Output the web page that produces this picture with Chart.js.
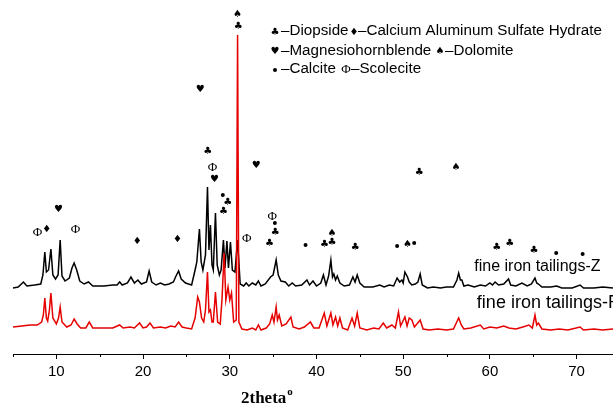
<!DOCTYPE html>
<html>
<head>
<meta charset="utf-8">
<script src="https://cdn.jsdelivr.net/npm/chart.js@4.4.1/dist/chart.umd.min.js"></script>
<style>
  html, body { margin: 0; padding: 0; background: #fff; }
  canvas { display: block; }
</style>
</head>
<body>
<canvas id="xrdChart" width="613" height="405"></canvas>
<script>
// XRD pattern, fine iron tailings (intensities in arbitrary units, offset per sample)
const zTheta = [5.0, 5.6, 6.2, 6.6, 7.5, 8.2, 8.45, 8.67, 8.85, 9.1, 9.37, 9.6, 9.9, 10.2, 10.44, 10.65, 11.0, 11.5, 11.8, 12.05,
  12.35, 12.7, 13.2, 13.7, 14.2, 15.5, 16.5, 17.0, 17.3, 17.6, 18.2, 18.6, 19.0, 19.4, 19.8, 20.4, 20.7, 21.0, 21.5, 22.0,
  22.5, 23.0, 23.5, 23.8, 24.1, 24.4, 24.9, 25.6, 26.0, 26.2, 26.5, 26.7, 26.9, 27.2, 27.43, 27.6, 27.77, 27.95, 28.1, 28.35,
  28.55, 28.8, 29.0, 29.27, 29.45, 29.67, 29.85, 30.08, 30.3, 30.6, 30.9, 31.2, 31.6, 31.9, 32.2, 32.6, 33.0, 33.3, 33.6, 34.1,
  34.7, 35.0, 35.35, 35.6, 35.9, 36.4, 36.8, 37.2, 37.6, 38.3, 38.9, 39.2, 39.6, 40.0, 40.5, 40.8, 41.1, 41.4, 41.66, 41.85,
  42.0, 42.2, 42.4, 42.7, 43.2, 43.8, 44.2, 44.45, 44.7, 45.0, 45.5, 46.5, 47.3, 47.8, 48.4, 48.9, 49.3, 49.6, 49.85, 50.0,
  50.2, 50.5, 50.7, 51.0, 51.4, 51.7, 51.96, 52.2, 52.8, 53.5, 54.3, 55.0, 55.8, 56.2, 56.4, 56.6, 56.77, 57.0, 57.5, 58.2,
  58.9, 59.5, 60.0, 60.3, 60.6, 61.0, 61.6, 62.15, 62.4, 63.0, 63.7, 64.3, 64.8, 65.2, 65.4, 65.6, 66.0, 67.0, 67.7, 68.3,
  69.5, 70.4, 70.8, 72.0, 73.0, 74.2];
const zCounts = [66, 67, 72, 68, 69, 70, 79, 102, 82, 84, 105, 79, 75, 79, 114, 78, 73, 76, 86, 91,
  84, 73, 70, 72, 68, 68, 69, 69, 72, 69, 71, 77, 71, 74, 70, 72, 83, 72, 69, 71,
  69, 70, 72, 78, 83, 75, 71, 69, 84, 92, 125, 92, 84, 99, 167, 104, 129, 89, 84, 141,
  89, 79, 84, 114, 86, 113, 86, 112, 84, 82, 114, 70, 68, 71, 68, 71, 69, 73, 68, 70,
  77, 79, 94, 79, 73, 72, 68, 71, 68, 69, 74, 69, 73, 68, 71, 79, 69, 78, 94, 77,
  80, 74, 78, 71, 68, 69, 77, 72, 79, 71, 67, 67, 69, 67, 69, 68, 76, 72, 74, 71,
  82, 77, 72, 69, 70, 72, 80, 69, 66, 67, 66, 67, 67, 74, 81, 74, 74, 68, 69, 67,
  69, 68, 71, 69, 72, 69, 70, 75, 69, 68, 71, 68, 70, 76, 71, 70, 67, 67, 68, 66,
  66, 69, 66, 66, 67, 66];

const rTheta = [5.0, 6.0, 7.0, 7.8, 8.3, 8.5, 8.67, 8.85, 9.0, 9.2, 9.37, 9.6, 10.0, 10.25, 10.44, 10.65, 11.2, 11.7, 12.05, 12.4,
  12.8, 13.4, 13.8, 14.2, 15.5, 16.5, 17.3, 17.7, 18.5, 19.0, 19.6, 20.0, 20.4, 20.8, 21.2, 22.0, 22.6, 23.2, 23.7, 24.1,
  24.5, 25.0, 25.6, 26.0, 26.3, 26.5, 26.75, 27.0, 27.2, 27.43, 27.6, 27.77, 27.95, 28.1, 28.35, 28.6, 28.9, 29.1, 29.35, 29.55,
  29.8, 30.0, 30.2, 30.45, 30.75, 30.9, 31.05, 31.4, 32.0, 32.6, 33.0, 33.3, 33.6, 34.2, 34.6, 34.9, 35.1, 35.35, 35.5, 35.7,
  36.0, 36.5, 37.05, 37.3, 38.0, 38.6, 39.3, 39.7, 40.3, 40.9, 41.2, 41.66, 41.9, 42.2, 42.45, 42.7, 43.0, 43.6, 44.1, 44.4,
  44.7, 45.0, 45.8, 46.6, 47.2, 47.7, 48.1, 48.7, 49.1, 49.46, 49.7, 50.2, 50.45, 50.7, 51.0, 51.3, 51.96, 52.3, 53.0, 54.0,
  55.0, 55.8, 56.4, 56.7, 57.0, 57.8, 58.9, 59.3, 60.0, 60.8, 61.6, 62.2, 63.0, 63.8, 64.5, 64.9, 65.2, 65.4, 65.6, 66.0,
  67.0, 68.0, 69.0, 70.4, 70.8, 72.0, 73.0, 74.2];
const rCounts = [27, 28, 29, 29, 32, 39, 56, 36, 33, 44, 61, 36, 30, 36, 47, 32, 27, 29, 35, 30,
  26, 26, 32, 26, 26, 26, 29, 26, 27, 26, 31, 26, 27, 31, 26, 27, 26, 28, 27, 32,
  27, 26, 25, 36, 57, 52, 36, 32, 44, 82, 42, 44, 32, 32, 62, 32, 30, 54, 101, 54,
  67, 54, 61, 32, 34, 319, 32, 25, 24, 26, 24, 29, 24, 26, 30, 39, 32, 47, 34, 39,
  28, 30, 37, 27, 25, 27, 32, 26, 26, 41, 28, 41, 29, 37, 28, 36, 26, 24, 36, 28,
  41, 26, 24, 26, 25, 31, 26, 29, 26, 42, 28, 37, 28, 36, 34, 27, 34, 25, 24, 25,
  24, 25, 36, 29, 25, 26, 29, 25, 27, 26, 28, 26, 25, 27, 29, 26, 39, 29, 31, 25,
  24, 25, 24, 27, 24, 25, 24, 25];

const tickValues = [10, 20, 30, 40, 50, 60, 70];
const seriesNames = ['fine iron tailings-Z', 'fine iron tailings-R'];

// phase marks above the peaks
const markTheta = [7.82, 8.9, 10.24, 12.2, 19.32, 23.97, 26.6, 27.47, 28.0, 28.24, 29.2, 29.78, 29.28, 30.89, 30.97, 33.05,
  31.97, 34.89, 35.2, 35.24, 34.58, 38.74, 40.93, 41.78, 41.78, 44.46, 51.85, 56.1, 49.3, 50.5, 51.27, 60.8, 62.3, 65.1,
  67.65, 70.7];
const markLevel = [121, 125, 145, 124, 113, 115, 265, 203, 186, 175, 159, 152, 143, 340, 328, 189,
  115, 137, 131, 122, 111, 109, 110, 121, 112, 107, 182, 187, 108, 110, 111, 107, 111, 104,
  101, 100];
const markSymbol = ['Φ', '♦', '♥', 'Φ', '♦', '♦', '♥', '♣', 'Φ', '♥', '●', '♣', '♣', '♠', '♣', '♥',
  'Φ', 'Φ', '●', '♣', '♣', '●', '♣', '♠', '♣', '♣', '♣', '♠', '●', '♠', '●', '♣', '♣', '♣',
  '●', '●'];

function drawMark(ctx, sym, x, y, size) {
  if (sym === '●') {
    ctx.beginPath();
    ctx.arc(x, y, size * 0.2, 0, Math.PI * 2);
    ctx.fill();
    return;
  }
  ctx.font = sym === 'Φ' ? (size + 3) + 'px "Liberation Serif"' : size + 'px "DejaVu Sans"';
  ctx.fillText(sym, x, y);
}

const decorPlugin = {
  id: 'decor',
  afterDraw(chart) {
    const ctx = chart.ctx;
    const xs = chart.scales.x;
    const ys = chart.scales.y;
    const bottom = chart.chartArea.bottom;
    ctx.save();
    ctx.fillStyle = '#000';
    ctx.strokeStyle = '#000';
    ctx.lineWidth = 1;

    // minor ticks
    for (let v = 5; v < xs.max; v += 10) {
      const px = Math.round(xs.getPixelForValue(v)) + 0.5;
      ctx.beginPath();
      ctx.moveTo(px, bottom);
      ctx.lineTo(px, bottom + 3);
      ctx.stroke();
    }

    // phase marks
    ctx.textAlign = 'center';
    ctx.textBaseline = 'middle';
    markSymbol.forEach((s, i) => {
      drawMark(ctx, s, xs.getPixelForValue(markTheta[i]), ys.getPixelForValue(markLevel[i]), 10);
    });

    // key, top right
    const key = [
      [['♣', 275], ['–Diopside', 281], ['♦', 354], ['–Calcium Aluminum Sulfate Hydrate', 358]],
      [['♥', 275], ['–Magnesiohornblende', 281], ['♠', 440], ['–Dolomite', 445]],
      [['●', 275], ['–Calcite', 281], ['Φ', 346], ['–Scolecite', 351]]
    ];
    const keyY = [31, 50.5, 69];
    key.forEach((row, r) => {
      row.forEach(([txt, x]) => {
        if (txt.length === 1) {
          ctx.textAlign = 'center';
          drawMark(ctx, txt, x, keyY[r] + 1, 10);
        } else {
          ctx.textAlign = 'left';
          ctx.font = '15.2px "Liberation Sans", Arial, sans-serif';
          ctx.fillText(txt, x, keyY[r]);
        }
      });
    });

    // sample names
    ctx.textAlign = 'left';
    ctx.font = '16px "Liberation Sans", Arial, sans-serif';
    ctx.fillText(seriesNames[0], xs.getPixelForValue(58.2), ys.getPixelForValue(87));
    ctx.font = '18px "Liberation Sans", Arial, sans-serif';
    ctx.fillText(seriesNames[1], xs.getPixelForValue(58.5), ys.getPixelForValue(51));

    // axis title
    ctx.textBaseline = 'alphabetic';
    ctx.font = 'bold 17px "Liberation Serif", "Times New Roman", serif';
    ctx.fillText('2theta', 241, 403);
    const w = ctx.measureText('2theta').width;
    ctx.font = 'bold 11px "Liberation Serif", "Times New Roman", serif';
    ctx.fillText('o', 241 + w + 1, 395);
    ctx.restore();
  }
};

const ctx = document.getElementById('xrdChart').getContext('2d');
const xrdChart = new Chart(ctx, {
    type: 'line',
    data: {
        datasets: [{
            label: seriesNames[1],
            data: rTheta.map((t, i) => ({ x: t, y: rCounts[i] })),
            borderColor: '#e60000',
            borderWidth: 1.5,
            pointRadius: 0,
            tension: 0,
            fill: false
        }, {
            label: seriesNames[0],
            data: zTheta.map((t, i) => ({ x: t, y: zCounts[i] })),
            borderColor: '#000000',
            borderWidth: 1.5,
            pointRadius: 0,
            tension: 0,
            fill: false
        }]
    },
    options: {
        responsive: false,
        animation: false,
        layout: { padding: { left: 13, right: 0, top: 0, bottom: 0 } },
        plugins: {
            legend: { display: false },
            tooltip: { enabled: false }
        },
        scales: {
            x: {
                type: 'linear',
                min: 5,
                max: 74.2,
                afterFit: scale => { scale.height = 51; },
                border: { display: true, color: '#000', width: 1 },
                grid: {
                    drawOnChartArea: false,
                    drawTicks: true,
                    tickLength: 5,
                    tickColor: c => tickValues.includes(c.tick.value) ? '#000' : 'rgba(0,0,0,0)'
                },
                ticks: {
                    stepSize: 5,
                    includeBounds: false,
                    autoSkip: false,
                    maxRotation: 0,
                    padding: 4,
                    color: '#000',
                    font: { family: '"Liberation Sans", Arial, sans-serif', size: 15 },
                    callback: v => tickValues.includes(v) ? String(v) : ''
                }
            },
            y: {
                display: false,
                min: 0,
                max: 354
            }
        }
    },
    plugins: [decorPlugin]
});
</script>
</body>
</html>
